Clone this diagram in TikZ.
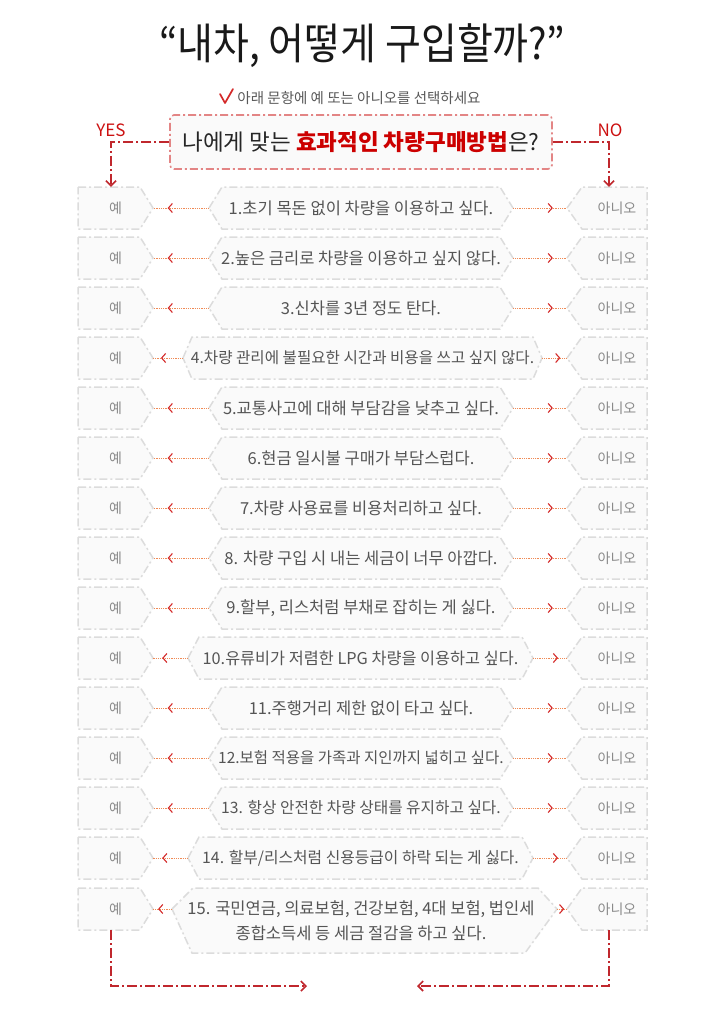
\documentclass[tikz,border=0pt]{standalone}
\usepackage{fontspec}
\setmainfont{Noto Sans CJK KR}
\usetikzlibrary{arrows.meta,decorations.markings}
\definecolor{qborder}{HTML}{DCDCDC}
\definecolor{qfill}{HTML}{FAFAFA}
\definecolor{qtextc}{HTML}{555555}
\definecolor{yntextc}{HTML}{8A8A8A}
\definecolor{dotc}{HTML}{F08A55}
\definecolor{tipc}{HTML}{D42A2A}
\definecolor{redl}{HTML}{C0272D}
\definecolor{hdrborder}{HTML}{E38585}
\definecolor{hred}{HTML}{CC0000}
\definecolor{lblred}{HTML}{CC1111}
\tikzset{
  qbox/.style={draw=qborder, fill=qfill, line width=1.5pt, dash pattern=on 8pt off 3pt on 2pt off 3pt, line join=miter},
  qtext/.style={inner sep=0pt, text=qtextc, font=\fontsize{16.5}{18}\selectfont},
  yntext/.style={inner sep=0pt, text=yntextc, font=\fontsize{14}{16}\selectfont},
  dotl/.style={draw=dotc, line width=1pt, dash pattern=on 1pt off 0.8pt,
    postaction={decorate},
    decoration={markings, mark=at position 0.74 with {\arrow[color=tipc, line width=1.1pt, solid]{Straight Barb[length=4pt,width=9pt]}}}},
  redconn/.style={draw=redl, line width=1.8pt, dash pattern=on 10pt off 3pt on 2pt off 3pt,
    -{Straight Barb[length=5pt,width=10pt,line width=1.6pt]}},
  hdrbox/.style={draw=hdrborder, fill=qfill, line width=1.6pt, rounded corners=4pt, dash pattern=on 8pt off 3pt on 2pt off 3pt, inner sep=0pt, font=\fontsize{22.5}{24}\selectfont, text=black!85},
  ynlbl/.style={text=lblred, inner sep=0pt, font=\fontsize{17}{18}\selectfont},
}
\newcommand\qrow[7][16.5]{%
  \filldraw[qbox] (78,#3-21) -- (140,#3-21) -- (153,#3) -- (140,#3+21) -- (78,#3+21) -- cycle;
  \node[yntext, minimum width=75pt, minimum height=42pt] (y#2) at (115.5,#3) {예};
  \filldraw[qbox] (567,#3) -- (582,#3-21) -- (647,#3-21) -- (647,#3+21) -- (582,#3+21) -- cycle;
  \node[yntext, minimum width=100pt, minimum height=42pt] (n#2) at (617,#3) {아니오};
  \filldraw[qbox] (#4,#3) -- (#4+#6,#3-21) -- (#5-#6,#3-21) -- (#5,#3) -- (#5-#6,#3+21) -- (#4+#6,#3+21) -- cycle;
  \node[qtext, font=\fontsize{#1}{18}\selectfont, minimum width={(#5-#4)*1pt}, minimum height=42pt] (q#2) at ({(#4+#5)/2},#3) {#7};
  \draw[dotl] (q#2.west) -- (y#2.east);
  \draw[dotl] (q#2.east) -- (n#2.west);
}
\begin{document}
\begin{tikzpicture}[x=1pt,y=-1pt]
\useasboundingbox[fill=white] (0,0) rectangle (726,1023);
% title
\node[inner sep=0pt, text=black!90] (title) at (362,46) {\scalebox{1}[1.1]{\fontsize{39}{40}\selectfont “내차, 어떻게 구입할까?”}};
% subtitle
\draw[draw=tipc, line width=1.7pt, line cap=round, line join=round] (220,94) -- (225,103) -- (233,89);
\node[inner sep=0pt, text=black!65, font=\fontsize{14.5}{16}\selectfont] (sub) at (359,98) {아래 문항에 예 또는 아니오를 선택하세요};
% header
\node[hdrbox, minimum width=382pt, minimum height=54pt] (hdr) at (361,142) {나에게 맞는 {\bfseries\color{hred}효과적인 차량구매방법}은?};
\node[ynlbl] (yes) at (111,130) {YES};
\node[ynlbl] (no) at (610,130) {NO};
% rows
\qrow{1}{208}{209}{513}{13}{1.초기 목돈 없이 차량을 이용하고 싶다.}
\qrow{2}{258}{209}{513}{13}{2.높은 금리로 차량을 이용하고 싶지 않다.}
\qrow{3}{308}{209}{513}{13}{3.신차를 3년 정도 탄다.}
\qrow[15.6]{4}{358}{183}{542}{9}{4.차량 관리에 불필요한 시간과 비용을 쓰고 싶지 않다.}
\qrow{5}{408}{209}{513}{13}{5.교통사고에 대해 부담감을 낮추고 싶다.}
\qrow{6}{458}{209}{513}{13}{6.현금 일시불 구매가 부담스럽다.}
\qrow{7}{508}{209}{513}{13}{7.차량 사용료를 비용처리하고 싶다.}
\qrow{8}{558}{209}{513}{13}{8. 차량 구입 시 내는 세금이 너무 아깝다.}
\qrow{9}{608}{209}{513}{13}{9.할부, 리스처럼 부채로 잡히는 게 싫다.}
\qrow[16.3]{10}{658}{188}{533}{11}{10.유류비가 저렴한 LPG 차량을 이용하고 싶다.}
\qrow{11}{708}{209}{513}{13}{11.주행거리 제한 없이 타고 싶다.}
\qrow[15.5]{12}{758}{209}{513}{13}{12.보험 적용을 가족과 지인까지 넓히고 싶다.}
\qrow[15.7]{13}{808}{209}{513}{13}{13. 항상 안전한 차량 상태를 유지하고 싶다.}
\qrow[15.8]{14}{858}{188}{533}{11}{14. 할부/리스처럼 신용등급이 하락 되는 게 싫다.}
% row 15
\filldraw[qbox] (78,888) -- (140,888) -- (153,909) -- (140,930) -- (78,930) -- cycle;
\node[yntext, minimum width=75pt, minimum height=42pt] (y15) at (115.5,909) {예};
\filldraw[qbox] (567,909) -- (582,888) -- (647,888) -- (647,930) -- (582,930) -- cycle;
\node[yntext, minimum width=100pt, minimum height=42pt] (n15) at (617,909) {아니오};
\filldraw[qbox] (172,909) -- (193,888) -- (538,888) -- (557,909) -- (525,953) -- (192,953) -- cycle;
\node[qtext, align=center, font=\fontsize{16.5}{25}\selectfont] (q15) at (361,921) {15. 국민연금, 의료보험, 건강보험, 4대 보험, 법인세\\종합소득세 등 세금 절감을 하고 싶다.};
\coordinate (q15w) at (172,909);
\coordinate (q15e) at (557,909);
\draw[dotl] (q15w) -- (y15.east);
\draw[dotl] (q15e) -- (n15.west);
% red connectors
\draw[redconn] (hdr.west) -| ([xshift=-4.5pt]y1.north);
\draw[redconn] (hdr.east) -| ([xshift=-8pt]n1.north);
\coordinate (bl) at (307,986);
\coordinate (br) at (417,986);
\draw[redconn] ([xshift=-4.5pt]y15.south) |- (bl);
\draw[redconn] ([xshift=-8pt]n15.south) |- (br);
\end{tikzpicture}
\end{document}
